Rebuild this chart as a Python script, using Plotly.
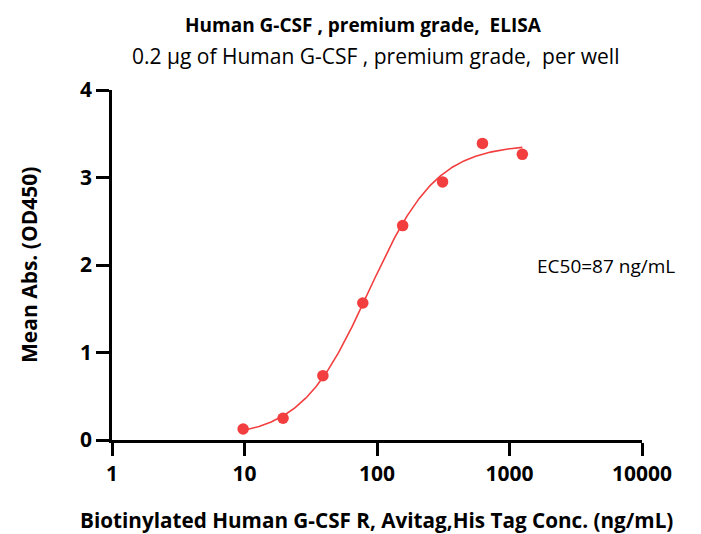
import numpy as np
import plotly.graph_objects as go

conc = [9.766, 19.53, 39.06, 78.13, 156.25, 312.5, 625, 1250]
od450 = [0.126, 0.248, 0.735, 1.566, 2.45, 2.95, 3.39, 3.265]

# 4-parameter logistic fit parameters (as drawn)
fit_bottom = 0.03
fit_top = 3.38
fit_ec50 = 87.0
fit_hill = 1.7

x_ticks = [1, 10, 100, 1000, 10000]
x_tick_text = ["1", "10", "100", "1000", "10000"]
y_ticks = [0, 1, 2, 3, 4]

red = "rgb(242,62,62)"
font_family = "Open Sans, Lato, sans-serif"

xf = np.logspace(np.log10(conc[0]), np.log10(conc[-1]), 300)
yf = fit_bottom + (fit_top - fit_bottom) / (1 + (fit_ec50 / xf) ** fit_hill)

fig = go.Figure()
fig.add_trace(go.Scatter(x=xf, y=yf, mode="lines",
                         line=dict(color=red, width=1.6), showlegend=False,
                         cliponaxis=False))
fig.add_trace(go.Scatter(x=conc, y=od450, mode="markers",
                         marker=dict(color=red, size=11.5), showlegend=False,
                         cliponaxis=False))

# page has an 8px body margin; compensate so screen pixels match reference
OFF = 8
W, H = 701 - OFF, 534 - OFF
l, r, t, b = 112 - OFF, 59, 90 - OFF, 94
pw, ph = W - l - r, H - t - b

def px2paper(px, py):
    return (px - OFF - l) / pw, (H - b - (py - OFF)) / ph

anns = []
for text, px, py, size in [
    ("<b>Human G-CSF , premium grade,  ELISA</b>", 363, 25, 19),
    ("0.2 μg of Human G-CSF , premium grade,  per well", 375, 56, 21),
    ("EC50=87 ng/mL", 606, 266, 19),
    ("<b>Biotinylated Human G-CSF R, Avitag,His Tag Conc. (ng/mL)</b>", 376, 520, 20.7),
]:
    ax, ay = px2paper(px, py)
    anns.append(dict(text=text, x=ax, y=ay, xref="paper", yref="paper",
                     showarrow=False, font=dict(size=size), xanchor="center", yanchor="middle"))
ax, ay = px2paper(29, 265)
anns.append(dict(text="<b>Mean Abs. (OD450)</b>", x=ax, y=ay, xref="paper", yref="paper",
                 showarrow=False, textangle=-90, font=dict(size=21),
                 xanchor="center", yanchor="middle"))

fig.update_layout(
    width=W, height=H,
    margin=dict(l=l, r=r, t=t, b=b),
    paper_bgcolor="white", plot_bgcolor="white",
    font=dict(family=font_family, color="black"),
    annotations=anns,
)

fig.update_xaxes(type="log", range=[0, 4], tickvals=x_ticks, ticktext=x_tick_text,
                 showline=True, linecolor="black", linewidth=2.5,
                 ticks="outside", ticklen=13, tickwidth=2.5, tickcolor="black",
                 showgrid=False, zeroline=False,
                 tickfont=dict(size=21, family=font_family, weight="bold"))
fig.update_yaxes(range=[0, 4], tickvals=y_ticks,
                 showline=True, linecolor="black", linewidth=2.5,
                 ticks="outside", ticklen=13, tickwidth=2.5, tickcolor="black",
                 showgrid=False, zeroline=False,
                 tickfont=dict(size=21, family=font_family, weight="bold"))

fig.write_html("out.html")
